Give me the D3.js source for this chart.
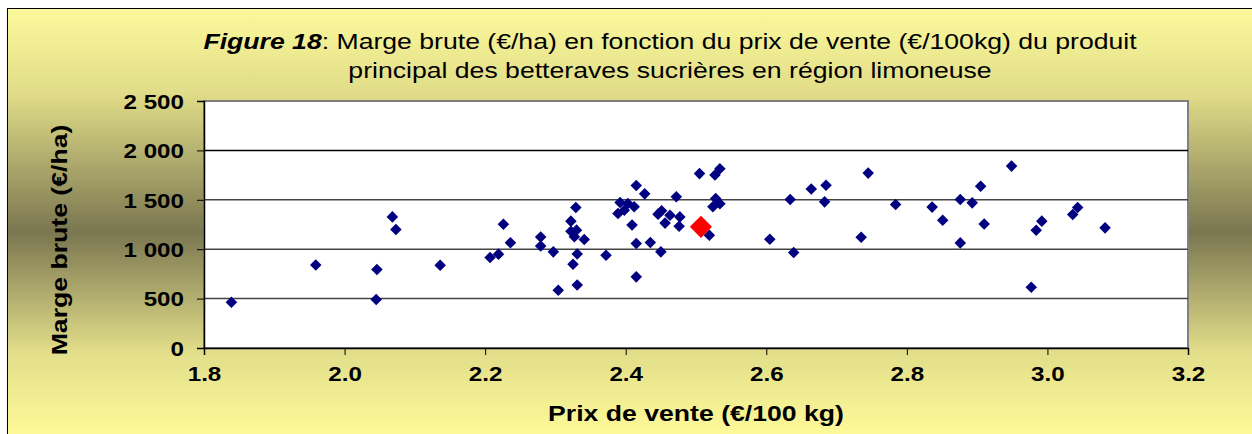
<!DOCTYPE html>
<html>
<head>
<meta charset="utf-8">
<script src="https://cdn.jsdelivr.net/npm/d3@7"></script>
<style>
  body { margin: 0; background: #ffffff; }
  svg { display: block; font-family: "Liberation Sans", Arial, sans-serif; }
</style>
</head>
<body>
<svg width="1252" height="434"></svg>
<script>
// prix de vente (€/100 kg) et marge brute (€/ha) par exploitation
var prix = [1.839, 1.959, 2.046, 2.045, 2.068, 2.073, 2.136, 2.207, 2.219, 2.226,
            2.236, 2.279, 2.279, 2.297, 2.304, 2.329, 2.322, 2.322, 2.330, 2.327,
            2.341, 2.331, 2.325, 2.331, 2.372, 2.392, 2.389, 2.403, 2.398, 2.412,
            2.415, 2.427, 2.409, 2.415, 2.435, 2.415, 2.450, 2.446, 2.451, 2.456,
            2.463, 2.477, 2.476, 2.472, 2.505, 2.519, 2.527, 2.534, 2.528, 2.534,
            2.524, 2.605, 2.634, 2.639, 2.664, 2.685, 2.683, 2.735, 2.745, 2.784,
            2.836, 2.851, 2.876, 2.876, 2.893, 2.905, 2.910, 2.949, 2.977, 2.984,
            2.992, 3.036, 3.043, 3.082];
var marge = [463, 841, 794, 490, 1327, 1200, 838, 916, 950, 1253,
             1066, 1123, 1033, 973, 585, 1422, 1284, 1182, 1193, 1125,
             1098, 952, 848, 638, 938, 1473, 1362, 1463, 1395, 1429,
             1644, 1560, 1245, 1058, 1068, 720, 973, 1355, 1390, 1264,
             1344, 1327, 1233, 1530, 1765, 1142, 1750, 1815, 1514, 1460,
             1429, 1101, 1503, 966, 1610, 1648, 1479, 1121, 1770, 1453,
             1426, 1294, 1503, 1064, 1469, 1638, 1256, 1841, 615, 1192,
             1284, 1352, 1422, 1216];
// moyenne de la région
var moyPrix = [2.507];
var moyMarge = [1226];

var xTicks = [1.8, 2.0, 2.2, 2.4, 2.6, 2.8, 3.0, 3.2];
var yTicks = [0, 500, 1000, 1500, 2000, 2500];

var svg = d3.select("svg");
var x0 = 204, x1 = 1188, y0 = 348, y1 = 101;
var sx = 1.21;   // le texte de l'original est un peu étiré en largeur

var scX = d3.scaleLinear().domain([1.8, 3.2]).range([x0, x1]);
var scY = d3.scaleLinear().domain([0, 2500]).range([y0, y1]);

// fond dégradé
var grad = svg.append("defs").append("linearGradient")
    .attr("id", "bg").attr("x1", 0).attr("y1", 0).attr("x2", 0).attr("y2", 1);
[[0, "#fcf99c"], [0.2, "#e0dc88"], [0.52, "#7a7650"], [0.8, "#e2de8a"], [1, "#fffb99"]]
    .forEach(function(s) {
        grad.append("stop").attr("offset", s[0]).attr("stop-color", s[1]);
    });

svg.append("rect")
    .attr("x", 7.5).attr("y", 8.5).attr("width", 1250).attr("height", 430)
    .attr("fill", "url(#bg)").attr("stroke", "#000").attr("stroke-width", 1);

// zone de tracé
svg.append("rect")
    .attr("x", x0).attr("y", y1).attr("width", x1 - x0).attr("height", y0 - y1)
    .attr("fill", "#fff").attr("stroke", "#808080").attr("stroke-width", 2);

svg.append("g").selectAll("line")
    .data(yTicks.filter(d => d > 0 && d < 2500)).enter().append("line")
    .attr("x1", x0).attr("x2", x1)
    .attr("y1", d => scY(d)).attr("y2", d => scY(d))
    .attr("stroke", d => d == 2000 ? "#000" : "#444").attr("stroke-width", 1.5);

// axes
var yAxis = d3.axisLeft(scY).tickValues(yTicks).tickSize(7).tickPadding(13)
    .tickFormat(d => d3.format(",")(d).replace(",", "\u00a0"));
var gy = svg.append("g").attr("transform", "translate(" + x0 + ",0)").call(yAxis);

var xAxis = d3.axisBottom(scX).tickValues(xTicks).tickSize(7).tickPadding(12)
    .tickFormat(d3.format(".1f"));
var gx = svg.append("g").attr("transform", "translate(0," + y0 + ")").call(xAxis);

[gx, gy].forEach(function(g) {
    g.select(".domain").attr("stroke", "#000").attr("stroke-width", 1.5);
    g.selectAll(".tick line").attr("stroke", "#000");
    g.selectAll("text").attr("font-family", "Liberation Sans, Arial, sans-serif")
        .attr("font-size", 20).attr("font-weight", "bold").attr("fill", "#000")
        .attr("transform", "scale(" + sx + ",1)");
});
gy.selectAll("text").attr("dy", "0.36em").attr("x", -20 / sx);

// points
var diamond = d3.symbol().type(d3.symbolDiamond2);

svg.append("g").attr("fill", "#000080")
    .selectAll("path")
    .data(prix).enter().append("path")
    .attr("d", diamond.size(85)())
    .attr("transform", (d, i) => "translate(" + scX(d) + "," + scY(marge[i]) + ")");

svg.append("g").attr("fill", "#ff0000")
    .selectAll("path")
    .data(moyPrix).enter().append("path")
    .attr("d", diamond.size(310)())
    .attr("transform", (d, i) => "translate(" + scX(d) + "," + scY(moyMarge[i]) + ")");

// titres
var title = svg.append("text").attr("text-anchor", "middle")
    .attr("transform", "translate(670,0) scale(" + sx + ",1)")
    .attr("font-size", 22).attr("fill", "#000");
var t1 = title.append("tspan").attr("x", 0).attr("y", 49);
t1.append("tspan").attr("font-weight", "bold").attr("font-style", "italic").text("Figure 18");
t1.append("tspan").text(": Marge brute (€/ha) en fonction du prix de vente (€/100kg) du produit");
title.append("tspan").attr("x", 0).attr("y", 78)
    .text("principal des betteraves sucrières en région limoneuse");

svg.append("text")
    .attr("transform", "translate(" + (x0 + x1) / 2 + ",421) scale(" + sx + ",1)")
    .attr("text-anchor", "middle").attr("font-size", 22).attr("font-weight", "bold")
    .text("Prix de vente (€/100 kg)");

svg.append("text")
    .attr("transform", "translate(67,240) rotate(-90) scale(" + sx + ",1)")
    .attr("text-anchor", "middle").attr("font-size", 22).attr("font-weight", "bold")
    .text("Marge brute (€/ha)");
</script>
</body>
</html>
